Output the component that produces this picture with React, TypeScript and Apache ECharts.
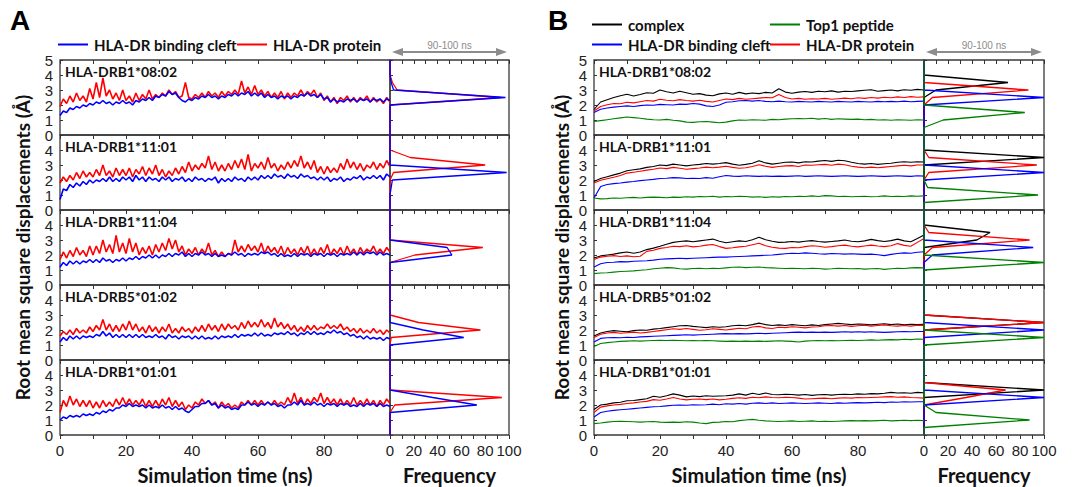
import React, { useEffect, useRef } from "react";
import * as echarts from "echarts";

// ---------- categories / tick labels ----------
const ALLELES = ["HLA-DRB1*08:02", "HLA-DRB1*11:01", "HLA-DRB1*11:04", "HLA-DRB5*01:02", "HLA-DRB1*01:01"];
const RMSD_BINS = [0, 0.5, 1, 1.5, 2, 2.5, 3, 3.5, 4, 4.5, 5];
const TIME_TICKS = [0, 20, 40, 60, 80];
const FREQ_TICKS = [0, 20, 40, 60, 80, 100];
const NAME_COMPLEX = "complex";
const NAME_PEPTIDE = "Top1 peptide";
const NAME_CLEFT = "HLA-DR binding cleft";
const NAME_PROTEIN = "HLA-DR protein";

// ---------- Panel A: RMSD time series (1 ns steps, 0..100 ns) ----------
const A0802_CLEFT = [
  1.3, 1.6, 1.5, 1.8, 1.7, 1.9, 1.8, 2.0, 1.9, 2.1,
  2.0, 2.2, 2.1, 2.3, 2.1, 2.2, 2.0, 2.2, 2.1, 2.3,
  2.1, 2.2, 2.0, 2.3, 2.2, 2.4, 2.3, 2.5, 2.3, 2.6,
  2.5, 2.7, 2.6, 2.9, 2.7, 2.8, 2.5, 2.3, 2.2, 2.4,
  2.3, 2.5, 2.4, 2.6, 2.5, 2.7, 2.5, 2.6, 2.4, 2.6,
  2.5, 2.7, 2.6, 2.8, 2.6, 2.8, 2.7, 2.9, 2.6, 2.8,
  2.6, 2.8, 2.5, 2.7, 2.5, 2.6, 2.4, 2.6, 2.5, 2.6,
  2.4, 2.6, 2.5, 2.7, 2.6, 2.8, 2.6, 2.7, 2.5, 2.7,
  2.4, 2.5, 2.2, 2.4, 2.2, 2.3, 2.2, 2.4, 2.3, 2.4,
  2.2, 2.4, 2.3, 2.4, 2.2, 2.4, 2.3, 2.4, 2.2, 2.4, 2.3,
];
const A0802_PROTEIN = [
  1.9, 2.4, 2.1, 2.6, 2.2, 2.8, 2.3, 2.6, 2.2, 3.1,
  2.4, 3.5, 2.5, 3.8, 2.6, 3.0, 2.4, 2.8, 2.3, 3.0,
  2.3, 2.6, 2.2, 2.8, 2.3, 2.7, 2.4, 3.0, 2.4, 2.7,
  2.5, 2.8, 2.6, 3.0, 2.7, 2.9, 2.5, 2.6, 3.5, 2.5,
  2.4, 2.7, 2.5, 2.8, 2.5, 2.9, 2.6, 2.8, 2.5, 2.9,
  2.6, 2.9, 2.7, 3.0, 2.7, 3.6, 2.8, 3.2, 2.7, 3.3,
  2.7, 3.0, 2.6, 2.9, 2.5, 2.8, 2.5, 2.9, 2.4, 2.8,
  2.5, 2.8, 2.6, 3.0, 2.6, 2.9, 2.7, 3.0, 2.5, 2.8,
  2.3, 2.6, 2.2, 2.5, 2.1, 2.5, 2.3, 2.6, 2.2, 2.5,
  2.2, 2.5, 2.3, 2.6, 2.2, 2.5, 2.2, 2.4, 2.1, 2.5, 2.2,
];
const A1101_CLEFT = [
  0.7, 1.4, 1.3, 1.7, 1.5, 1.8, 1.6, 1.9, 1.7, 2.0,
  1.8, 2.0, 1.9, 2.1, 1.9, 2.2, 1.9, 2.1, 1.9, 2.2,
  2.0, 2.2, 1.9, 2.3, 2.0, 2.2, 1.9, 2.2, 2.0, 2.1,
  1.9, 2.2, 2.0, 2.2, 1.9, 2.1, 2.0, 2.2, 1.9, 2.1,
  1.9, 2.2, 2.0, 2.1, 1.9, 2.1, 2.0, 2.2, 1.8, 2.1,
  1.9, 2.1, 1.9, 2.2, 2.0, 2.1, 1.9, 2.2, 2.0, 2.2,
  2.0, 2.3, 2.1, 2.3, 2.1, 2.4, 2.2, 2.3, 2.1, 2.4,
  2.2, 2.3, 2.1, 2.4, 2.2, 2.3, 2.1, 2.2, 2.0, 2.2,
  2.0, 2.2, 1.9, 2.1, 2.0, 2.2, 1.9, 2.1, 2.0, 2.2,
  2.1, 2.3, 2.0, 2.2, 2.1, 2.3, 2.1, 2.3, 2.0, 2.4, 2.2,
];
const A1101_PROTEIN = [
  1.8, 2.2, 1.9, 2.3, 2.0, 2.5, 2.1, 2.6, 2.2, 2.5,
  2.2, 2.7, 2.3, 3.0, 2.3, 2.6, 2.2, 2.8, 2.3, 2.7,
  2.3, 2.8, 2.2, 2.7, 2.4, 2.9, 2.3, 2.8, 2.4, 3.0,
  2.3, 2.7, 2.2, 2.6, 2.3, 2.8, 2.4, 2.9, 2.5, 3.2,
  2.6, 3.0, 2.7, 3.1, 2.8, 3.6, 2.7, 3.2, 2.6, 3.0,
  2.6, 3.1, 2.7, 3.3, 2.8, 3.4, 2.7, 3.7, 2.6, 3.1,
  2.8, 3.2, 2.7, 3.5, 2.8, 3.1, 2.6, 3.0, 2.7, 3.2,
  2.8, 3.3, 2.9, 3.6, 2.8, 3.2, 2.7, 3.3, 2.5, 2.9,
  2.4, 2.9, 2.5, 2.8, 2.5, 3.1, 2.7, 3.4, 2.8, 3.2,
  2.7, 3.1, 2.6, 3.0, 2.8, 3.2, 2.7, 3.1, 2.8, 3.3, 2.9,
];
const A1104_CLEFT = [
  1.2, 1.5, 1.3, 1.6, 1.4, 1.6, 1.4, 1.6, 1.5, 1.7,
  1.5, 1.7, 1.5, 1.8, 1.6, 1.7, 1.5, 1.7, 1.6, 1.8,
  1.6, 1.8, 1.7, 1.9, 1.7, 1.9, 1.8, 2.0, 1.8, 2.0,
  1.8, 2.0, 1.9, 2.1, 1.9, 2.1, 2.0, 2.2, 1.9, 2.1,
  1.9, 2.1, 2.0, 2.2, 2.0, 2.1, 1.9, 2.1, 1.9, 2.0,
  1.9, 2.1, 2.0, 2.2, 2.0, 2.1, 1.9, 2.1, 2.0, 2.1,
  2.0, 2.2, 2.1, 2.2, 2.0, 2.1, 1.9, 2.1, 1.9, 2.0,
  1.9, 2.1, 1.9, 2.1, 2.0, 2.1, 1.9, 2.1, 2.0, 2.1,
  1.9, 2.1, 2.0, 2.1, 1.9, 2.1, 2.0, 2.1, 2.0, 2.2,
  2.0, 2.2, 2.0, 2.2, 2.1, 2.2, 2.0, 2.2, 2.0, 2.1, 2.0,
];
const A1104_PROTEIN = [
  1.7, 2.2, 1.8, 2.3, 1.9, 2.5, 2.0, 2.3, 1.9, 2.6,
  2.0, 2.6, 2.1, 3.0, 2.2, 2.7, 2.1, 3.3, 2.2, 2.8,
  2.1, 3.1, 2.2, 2.8, 2.0, 2.5, 2.1, 2.6, 2.0, 2.7,
  2.2, 2.8, 2.3, 3.1, 2.4, 3.0, 2.2, 2.6, 2.0, 2.4,
  2.1, 2.5, 2.0, 2.4, 2.1, 2.8, 2.0, 2.3, 1.9, 2.2,
  1.9, 2.1, 2.0, 3.0, 2.2, 2.6, 2.2, 2.7, 2.3, 2.6,
  2.2, 2.8, 2.1, 2.6, 2.2, 2.5, 2.1, 2.6, 2.0, 2.5,
  2.1, 2.4, 2.0, 2.5, 2.1, 2.6, 2.0, 2.4, 2.0, 2.5,
  2.1, 2.7, 2.0, 2.4, 2.1, 2.5, 2.0, 2.6, 2.1, 2.4,
  2.0, 2.5, 2.1, 2.4, 2.2, 2.6, 2.1, 2.4, 2.1, 2.5, 2.2,
];
const A0102_CLEFT = [
  1.2, 1.5, 1.3, 1.6, 1.4, 1.6, 1.4, 1.6, 1.5, 1.6,
  1.5, 1.7, 1.6, 1.9, 1.6, 1.8, 1.5, 1.7, 1.5, 1.7,
  1.5, 1.7, 1.5, 1.7, 1.5, 1.7, 1.5, 1.6, 1.5, 1.7,
  1.5, 1.6, 1.4, 1.7, 1.5, 1.6, 1.4, 1.6, 1.5, 1.6,
  1.4, 1.6, 1.4, 1.6, 1.4, 1.5, 1.4, 1.6, 1.4, 1.6,
  1.5, 1.6, 1.5, 1.7, 1.5, 1.7, 1.6, 1.7, 1.6, 1.8,
  1.6, 1.8, 1.6, 1.7, 1.6, 1.8, 1.7, 1.8, 1.7, 1.9,
  1.7, 1.8, 1.6, 1.8, 1.7, 1.9, 1.7, 1.9, 1.7, 1.8,
  1.7, 1.9, 1.8, 2.0, 1.8, 1.9, 1.7, 1.8, 1.6, 1.7,
  1.5, 1.6, 1.4, 1.6, 1.4, 1.5, 1.4, 1.5, 1.3, 1.5, 1.4,
];
const A0102_PROTEIN = [
  1.6, 1.9, 1.7, 2.0, 1.7, 2.1, 1.8, 2.0, 1.8, 2.2,
  1.9, 2.3, 2.0, 2.7, 2.0, 2.4, 1.9, 2.3, 1.9, 2.4,
  2.0, 2.6, 2.0, 2.4, 1.9, 2.2, 1.8, 2.3, 1.9, 2.2,
  1.8, 2.2, 1.9, 2.4, 1.8, 2.1, 1.8, 2.2, 1.9, 2.1,
  1.8, 2.2, 1.9, 2.3, 1.9, 2.4, 2.0, 2.3, 1.9, 2.4,
  2.0, 2.4, 2.1, 2.3, 2.0, 2.5, 2.1, 2.6, 2.2, 2.5,
  2.2, 2.7, 2.2, 2.5, 2.1, 2.8, 2.2, 2.5, 2.1, 2.4,
  2.0, 2.3, 1.9, 2.2, 1.9, 2.3, 2.0, 2.3, 2.0, 2.2,
  2.1, 2.4, 2.1, 2.3, 2.1, 2.4, 2.0, 2.2, 1.9, 2.1,
  1.8, 2.1, 1.8, 2.0, 1.8, 2.1, 1.8, 2.0, 1.7, 2.0, 1.8,
];
const A0101_CLEFT = [
  1.0, 1.2, 1.1, 1.3, 1.2, 1.3, 1.2, 1.4, 1.3, 1.4,
  1.3, 1.5, 1.4, 1.6, 1.5, 1.7, 1.6, 1.8, 1.8, 2.0,
  1.9, 2.1, 1.9, 2.0, 1.9, 2.0, 1.8, 2.0, 1.8, 1.9,
  1.8, 2.0, 1.8, 1.9, 1.7, 1.9, 1.7, 1.8, 1.6, 1.5,
  1.7, 1.9, 1.9, 2.1, 2.1, 2.3, 2.0, 2.1, 1.8, 2.0,
  1.8, 1.9, 1.7, 1.8, 1.7, 2.0, 2.0, 2.2, 2.0, 2.1,
  1.9, 2.1, 2.0, 2.2, 2.0, 2.1, 1.9, 2.0, 1.8, 2.0,
  2.0, 2.2, 2.0, 2.3, 2.0, 2.1, 2.0, 2.2, 2.0, 2.1,
  1.9, 2.1, 2.0, 2.1, 1.9, 2.1, 2.0, 2.1, 1.9, 2.0,
  1.9, 2.1, 1.9, 2.1, 2.0, 2.1, 1.9, 2.1, 1.9, 2.0, 1.9,
];
const A0101_PROTEIN = [
  1.5, 2.3, 1.9, 2.6, 2.0, 2.4, 1.9, 2.3, 1.9, 2.3,
  1.8, 2.2, 1.8, 2.3, 1.9, 2.2, 1.9, 2.4, 2.0, 2.5,
  2.0, 2.4, 2.0, 2.3, 2.0, 2.4, 1.9, 2.3, 1.9, 2.3,
  1.9, 2.4, 2.0, 2.5, 1.9, 2.3, 1.9, 2.2, 1.7, 2.0,
  1.8, 2.2, 2.0, 2.4, 2.1, 2.3, 2.0, 2.2, 1.8, 2.2,
  1.9, 2.1, 1.8, 2.0, 1.8, 2.2, 2.0, 2.3, 2.0, 2.3,
  2.0, 2.3, 2.0, 2.2, 2.0, 2.3, 2.0, 2.2, 2.0, 2.5,
  2.1, 2.8, 2.1, 2.5, 2.0, 2.4, 2.1, 2.5, 2.2, 2.8,
  2.1, 2.5, 2.1, 2.4, 2.0, 2.4, 2.0, 2.3, 2.0, 2.5,
  2.0, 2.3, 2.0, 2.4, 2.0, 2.3, 1.9, 2.3, 2.0, 2.4, 2.1,
];

// ---------- Panel A: frequency (90-100 ns) per RMSD bin ----------
const AH0802_CLEFT = [0, 0, 0, 0, 0, 97, 3, 1, 0, 0, 0];
const AH0802_PROTEIN = [0, 0, 0, 0, 0, 93, 6, 2, 0, 0, 0];
const AH1101_CLEFT = [0, 0, 0, 1, 2, 98, 0, 0, 0, 0, 0];
const AH1101_PROTEIN = [0, 0, 0, 0, 0, 3, 80, 17, 0, 0, 0];
const AH1104_CLEFT = [0, 0, 0, 0, 52, 48, 0, 0, 0, 0, 0];
const AH1104_PROTEIN = [0, 0, 0, 0, 21, 78, 0, 0, 0, 0, 0];
const AH0102_CLEFT = [0, 0, 0, 62, 28, 0, 0, 0, 0, 0, 0];
const AH0102_PROTEIN = [0, 0, 0, 1, 76, 24, 0, 0, 0, 0, 0];
const AH0101_CLEFT = [0, 0, 0, 0, 73, 36, 0, 0, 0, 0, 0];
const AH0101_PROTEIN = [0, 0, 0, 0, 4, 94, 0, 0, 0, 0, 0];

// ---------- Panel B: RMSD time series (2 ns steps, 0..100 ns) ----------
const B0802_COMPLEX = [1.70, 2.20, 2.35, 2.50, 2.62, 2.72, 2.60, 2.70, 2.82, 2.78, 3.00, 2.88, 2.80, 2.92, 2.82, 2.72, 2.76, 2.66, 2.62, 2.74, 2.80, 2.72, 2.84, 2.74, 2.80, 2.76, 2.84, 2.80, 3.08, 2.86, 2.78, 2.86, 2.90, 2.84, 2.92, 2.88, 2.94, 2.86, 2.92, 2.90, 2.94, 2.98, 3.02, 2.92, 2.96, 3.00, 2.94, 3.02, 2.98, 3.04, 3.00];
const B0802_PROTEIN = [1.60, 1.90, 2.02, 2.10, 2.08, 2.18, 2.14, 2.22, 2.30, 2.26, 2.38, 2.32, 2.28, 2.36, 2.30, 2.26, 2.32, 2.24, 2.20, 2.30, 2.40, 2.36, 2.44, 2.38, 2.42, 2.46, 2.50, 2.48, 2.70, 2.50, 2.40, 2.44, 2.38, 2.42, 2.40, 2.44, 2.38, 2.42, 2.46, 2.42, 2.48, 2.44, 2.50, 2.46, 2.52, 2.48, 2.54, 2.50, 2.56, 2.52, 2.54];
const B0802_CLEFT = [1.50, 1.72, 1.80, 1.86, 1.90, 1.94, 1.90, 1.96, 2.00, 1.98, 2.04, 2.02, 2.00, 2.06, 2.04, 2.10, 2.06, 1.94, 1.90, 2.00, 2.18, 2.22, 2.28, 2.30, 2.26, 2.30, 2.24, 2.22, 2.26, 2.22, 2.20, 2.24, 2.22, 2.20, 2.24, 2.22, 2.20, 2.24, 2.22, 2.20, 2.24, 2.22, 2.20, 2.24, 2.22, 2.24, 2.22, 2.26, 2.22, 2.24, 2.26];
const B0802_PEPTIDE = [0.90, 0.96, 1.02, 1.08, 1.14, 1.20, 1.16, 1.12, 1.06, 1.02, 1.00, 1.04, 0.98, 0.94, 0.86, 0.84, 0.88, 0.90, 0.86, 0.82, 0.86, 0.94, 1.00, 0.98, 1.02, 1.00, 0.98, 1.04, 1.02, 1.06, 1.08, 1.10, 1.08, 1.12, 1.06, 1.10, 1.04, 1.08, 1.06, 1.04, 1.06, 1.02, 1.04, 1.00, 1.02, 0.98, 1.02, 1.00, 0.98, 1.02, 1.00];
const B1101_COMPLEX = [1.90, 2.10, 2.22, 2.34, 2.46, 2.62, 2.68, 2.74, 2.84, 2.90, 3.00, 2.96, 3.06, 3.00, 2.94, 3.00, 3.04, 3.10, 3.06, 3.10, 3.16, 3.06, 2.98, 3.04, 3.12, 3.28, 3.14, 3.06, 3.12, 3.18, 3.20, 3.14, 3.22, 3.20, 3.26, 3.30, 3.24, 3.32, 3.28, 3.18, 3.10, 3.06, 3.10, 3.04, 3.08, 3.12, 3.18, 3.22, 3.18, 3.22, 3.20];
const B1101_PROTEIN = [1.80, 1.98, 2.08, 2.18, 2.30, 2.46, 2.52, 2.58, 2.66, 2.72, 2.80, 2.76, 2.84, 2.78, 2.72, 2.76, 2.80, 2.86, 2.82, 2.86, 2.92, 2.84, 2.78, 2.82, 2.90, 3.02, 2.92, 2.84, 2.90, 2.94, 2.96, 2.90, 3.00, 2.98, 3.02, 3.04, 2.98, 3.06, 3.02, 2.92, 2.86, 2.82, 2.86, 2.82, 2.86, 2.90, 2.94, 2.98, 2.94, 3.00, 3.00];
const B1101_CLEFT = [0.80, 1.56, 1.70, 1.76, 1.80, 1.86, 1.90, 1.96, 2.00, 2.04, 2.10, 2.12, 2.16, 2.14, 2.10, 2.12, 2.10, 2.16, 2.12, 2.22, 2.30, 2.26, 2.24, 2.28, 2.26, 2.24, 2.26, 2.24, 2.26, 2.24, 2.26, 2.28, 2.24, 2.26, 2.28, 2.26, 2.24, 2.26, 2.28, 2.26, 2.24, 2.26, 2.28, 2.26, 2.24, 2.26, 2.28, 2.26, 2.24, 2.28, 2.26];
const B1101_PEPTIDE = [0.80, 0.74, 0.76, 0.80, 0.78, 0.82, 0.84, 0.80, 0.84, 0.86, 0.84, 0.82, 0.86, 0.84, 0.88, 0.86, 0.90, 0.88, 0.92, 0.86, 0.90, 0.88, 0.92, 0.90, 0.86, 0.88, 0.84, 0.88, 0.86, 0.90, 0.88, 0.92, 0.90, 0.94, 0.90, 0.96, 0.94, 0.90, 0.92, 0.88, 0.90, 0.92, 0.88, 0.90, 0.94, 0.90, 0.92, 0.90, 0.94, 0.92, 0.94];
const B1104_COMPLEX = [1.80, 1.94, 2.00, 2.06, 2.14, 2.20, 2.12, 2.20, 2.36, 2.46, 2.58, 2.72, 2.84, 2.90, 2.94, 2.88, 2.94, 3.00, 3.06, 2.92, 2.82, 2.88, 2.94, 2.90, 3.02, 3.18, 3.02, 2.92, 2.84, 2.86, 2.90, 2.86, 2.92, 2.96, 2.90, 2.86, 2.90, 2.94, 3.00, 2.92, 2.88, 2.94, 3.04, 2.96, 2.90, 2.96, 3.06, 2.94, 2.88, 3.10, 3.34];
const B1104_PROTEIN = [1.70, 1.86, 1.92, 1.96, 1.90, 1.94, 1.88, 1.92, 2.24, 2.32, 2.44, 2.50, 2.58, 2.56, 2.62, 2.54, 2.58, 2.66, 2.70, 2.56, 2.44, 2.48, 2.54, 2.58, 2.68, 2.78, 2.62, 2.52, 2.46, 2.44, 2.50, 2.48, 2.56, 2.62, 2.58, 2.52, 2.56, 2.62, 2.66, 2.58, 2.54, 2.60, 2.66, 2.60, 2.56, 2.62, 2.76, 2.64, 2.58, 2.84, 3.10];
const B1104_CLEFT = [1.20, 1.42, 1.50, 1.52, 1.56, 1.54, 1.58, 1.60, 1.62, 1.66, 1.72, 1.74, 1.76, 1.78, 1.76, 1.78, 1.80, 1.82, 1.84, 1.86, 1.86, 1.88, 1.90, 1.92, 1.94, 1.96, 1.98, 2.00, 2.04, 2.08, 2.12, 2.10, 2.14, 2.12, 2.08, 2.06, 2.10, 2.08, 2.06, 2.08, 2.06, 2.04, 2.06, 2.02, 1.96, 2.04, 2.10, 2.14, 2.12, 2.18, 2.22];
const B1104_PEPTIDE = [0.76, 0.80, 0.82, 0.86, 0.90, 0.92, 0.94, 0.98, 1.02, 1.08, 1.12, 1.16, 1.14, 1.08, 1.06, 1.10, 1.12, 1.08, 1.12, 1.10, 1.14, 1.18, 1.20, 1.16, 1.18, 1.20, 1.16, 1.14, 1.12, 1.10, 1.12, 1.10, 1.08, 1.12, 1.10, 1.06, 1.08, 1.12, 1.10, 1.08, 1.10, 1.06, 1.08, 1.10, 1.04, 1.08, 1.12, 1.10, 1.14, 1.16, 1.14];
const B0102_COMPLEX = [1.60, 1.80, 1.90, 1.96, 1.92, 1.88, 1.96, 2.00, 1.98, 2.06, 2.10, 2.16, 2.22, 2.28, 2.30, 2.24, 2.20, 2.16, 2.22, 2.18, 2.22, 2.28, 2.32, 2.28, 2.36, 2.46, 2.36, 2.30, 2.34, 2.30, 2.36, 2.32, 2.28, 2.34, 2.30, 2.36, 2.40, 2.44, 2.40, 2.36, 2.40, 2.38, 2.34, 2.38, 2.42, 2.36, 2.40, 2.34, 2.38, 2.36, 2.38];
const B0102_PROTEIN = [1.50, 1.72, 1.80, 1.84, 1.78, 1.82, 1.86, 1.80, 1.84, 1.90, 1.96, 2.02, 2.08, 2.04, 2.10, 2.04, 1.98, 2.02, 2.08, 2.04, 2.00, 2.06, 2.12, 2.08, 2.20, 2.24, 2.14, 2.10, 2.18, 2.16, 2.22, 2.18, 2.14, 2.20, 2.22, 2.28, 2.30, 2.26, 2.30, 2.24, 2.28, 2.32, 2.26, 2.30, 2.34, 2.28, 2.26, 2.30, 2.26, 2.32, 2.30];
const B0102_CLEFT = [1.20, 1.44, 1.48, 1.50, 1.48, 1.52, 1.50, 1.54, 1.56, 1.58, 1.60, 1.62, 1.64, 1.66, 1.68, 1.66, 1.68, 1.70, 1.72, 1.74, 1.76, 1.74, 1.76, 1.74, 1.76, 1.78, 1.76, 1.78, 1.80, 1.82, 1.84, 1.86, 1.84, 1.86, 1.84, 1.86, 1.84, 1.86, 1.88, 1.86, 1.88, 1.86, 1.88, 1.86, 1.84, 1.86, 1.88, 1.90, 1.88, 1.90, 1.90];
const B0102_PEPTIDE = [0.90, 1.10, 1.16, 1.20, 1.24, 1.26, 1.28, 1.26, 1.28, 1.30, 1.32, 1.30, 1.32, 1.30, 1.28, 1.30, 1.28, 1.30, 1.28, 1.26, 1.24, 1.26, 1.24, 1.26, 1.24, 1.26, 1.24, 1.26, 1.28, 1.26, 1.24, 1.20, 1.26, 1.28, 1.30, 1.28, 1.30, 1.28, 1.30, 1.32, 1.30, 1.32, 1.34, 1.32, 1.34, 1.36, 1.34, 1.38, 1.36, 1.40, 1.38];
const B0101_COMPLEX = [1.70, 2.00, 2.06, 2.14, 2.18, 2.28, 2.30, 2.36, 2.42, 2.58, 2.52, 2.62, 2.74, 2.66, 2.54, 2.60, 2.56, 2.62, 2.58, 2.60, 2.62, 2.66, 2.74, 2.66, 2.78, 2.70, 2.80, 2.70, 2.68, 2.72, 2.70, 2.66, 2.70, 2.64, 2.68, 2.70, 2.66, 2.70, 2.72, 2.70, 2.74, 2.72, 2.76, 2.74, 2.78, 2.84, 2.80, 2.82, 2.78, 2.84, 2.82];
const B0101_PROTEIN = [1.50, 1.86, 1.94, 2.00, 2.04, 2.10, 2.14, 2.20, 2.24, 2.36, 2.32, 2.40, 2.50, 2.40, 2.34, 2.38, 2.40, 2.36, 2.40, 2.34, 2.38, 2.44, 2.48, 2.44, 2.52, 2.48, 2.54, 2.50, 2.48, 2.52, 2.50, 2.46, 2.40, 2.42, 2.44, 2.46, 2.42, 2.46, 2.48, 2.46, 2.50, 2.48, 2.50, 2.52, 2.54, 2.56, 2.52, 2.54, 2.50, 2.48, 2.46];
const B0101_CLEFT = [1.20, 1.50, 1.58, 1.64, 1.68, 1.72, 1.76, 1.80, 1.84, 1.88, 1.90, 1.94, 1.98, 2.00, 1.98, 2.02, 2.00, 2.02, 2.06, 2.02, 2.08, 2.06, 2.10, 2.06, 2.12, 2.14, 2.10, 2.14, 2.10, 2.12, 2.14, 2.12, 2.10, 2.12, 2.14, 2.12, 2.10, 2.14, 2.12, 2.14, 2.16, 2.14, 2.16, 2.18, 2.16, 2.20, 2.18, 2.22, 2.20, 2.22, 2.22];
const B0101_PEPTIDE = [0.76, 0.80, 0.86, 0.90, 0.92, 0.90, 0.88, 0.86, 0.88, 0.90, 0.86, 0.84, 0.86, 0.84, 0.88, 0.86, 0.80, 0.76, 0.84, 0.86, 0.90, 0.88, 0.96, 1.00, 1.04, 0.98, 0.94, 0.92, 0.90, 0.92, 0.94, 0.90, 0.92, 0.94, 0.90, 0.92, 0.90, 0.92, 0.94, 0.96, 0.94, 0.96, 0.94, 0.96, 0.98, 0.94, 0.96, 0.98, 0.96, 0.98, 0.96];

// ---------- Panel B: frequency (90-100 ns) per RMSD bin ----------
const BH0802_COMPLEX = [0, 0, 0, 0, 0, 0, 10, 70, 0, 0, 0];
const BH0802_PROTEIN = [0, 0, 0, 0, 0, 7, 87, 0, 0, 0, 0];
const BH0802_CLEFT = [0, 0, 0, 0, 0, 100, 0, 0, 0, 0, 0];
const BH0802_PEPTIDE = [0, 0, 16, 84, 0, 0, 0, 0, 0, 0, 0];
const BH1101_COMPLEX = [0, 0, 0, 0, 0, 0, 0, 100, 0, 0, 0];
const BH1101_PROTEIN = [0, 0, 0, 0, 0, 4, 94, 4, 0, 0, 0];
const BH1101_CLEFT = [0, 0, 0, 0, 0, 100, 0, 0, 0, 0, 0];
const BH1101_PEPTIDE = [0, 0, 95, 3, 0, 0, 0, 0, 0, 0, 0];
const BH1104_COMPLEX = [0, 0, 0, 0, 0, 0, 44, 55, 0, 0, 0];
const BH1104_PROTEIN = [0, 0, 0, 0, 0, 7, 88, 4, 0, 0, 0];
const BH1104_CLEFT = [0, 0, 0, 0, 7, 91, 0, 0, 0, 0, 0];
const BH1104_PEPTIDE = [0, 0, 0, 100, 0, 0, 0, 0, 0, 0, 0];
const BH0102_COMPLEX = [0, 0, 0, 0, 0, 100, 0, 0, 0, 0, 0];
const BH0102_PROTEIN = [0, 0, 0, 0, 0, 100, 0, 0, 0, 0, 0];
const BH0102_CLEFT = [0, 0, 0, 0, 100, 0, 0, 0, 0, 0, 0];
const BH0102_PEPTIDE = [0, 0, 0, 100, 0, 0, 0, 0, 0, 0, 0];
const BH0101_COMPLEX = [0, 0, 0, 0, 0, 0, 100, 0, 0, 0, 0];
const BH0101_PROTEIN = [0, 0, 0, 0, 0, 35, 68, 0, 0, 0, 0];
const BH0101_CLEFT = [0, 0, 0, 0, 0, 100, 0, 0, 0, 0, 0];
const BH0101_PEPTIDE = [0, 0, 88, 10, 0, 0, 0, 0, 0, 0, 0];

// ---------- assembly ----------
const COLOR: Record<string, string> = {
  [NAME_COMPLEX]: "#000000",
  [NAME_PEPTIDE]: "#008000",
  [NAME_CLEFT]: "#0000ff",
  [NAME_PROTEIN]: "#ff0000",
};

type Trace = { name: string; time: number[]; hist: number[] };

const PANEL_A_ROWS: Trace[][] = [
  [{ name: NAME_PROTEIN, time: A0802_PROTEIN, hist: AH0802_PROTEIN }, { name: NAME_CLEFT, time: A0802_CLEFT, hist: AH0802_CLEFT }],
  [{ name: NAME_PROTEIN, time: A1101_PROTEIN, hist: AH1101_PROTEIN }, { name: NAME_CLEFT, time: A1101_CLEFT, hist: AH1101_CLEFT }],
  [{ name: NAME_PROTEIN, time: A1104_PROTEIN, hist: AH1104_PROTEIN }, { name: NAME_CLEFT, time: A1104_CLEFT, hist: AH1104_CLEFT }],
  [{ name: NAME_PROTEIN, time: A0102_PROTEIN, hist: AH0102_PROTEIN }, { name: NAME_CLEFT, time: A0102_CLEFT, hist: AH0102_CLEFT }],
  [{ name: NAME_PROTEIN, time: A0101_PROTEIN, hist: AH0101_PROTEIN }, { name: NAME_CLEFT, time: A0101_CLEFT, hist: AH0101_CLEFT }],
];

const PANEL_B_ROWS: Trace[][] = [
  [
    { name: NAME_COMPLEX, time: B0802_COMPLEX, hist: BH0802_COMPLEX },
    { name: NAME_PROTEIN, time: B0802_PROTEIN, hist: BH0802_PROTEIN },
    { name: NAME_CLEFT, time: B0802_CLEFT, hist: BH0802_CLEFT },
    { name: NAME_PEPTIDE, time: B0802_PEPTIDE, hist: BH0802_PEPTIDE },
  ],
  [
    { name: NAME_COMPLEX, time: B1101_COMPLEX, hist: BH1101_COMPLEX },
    { name: NAME_PROTEIN, time: B1101_PROTEIN, hist: BH1101_PROTEIN },
    { name: NAME_CLEFT, time: B1101_CLEFT, hist: BH1101_CLEFT },
    { name: NAME_PEPTIDE, time: B1101_PEPTIDE, hist: BH1101_PEPTIDE },
  ],
  [
    { name: NAME_COMPLEX, time: B1104_COMPLEX, hist: BH1104_COMPLEX },
    { name: NAME_PROTEIN, time: B1104_PROTEIN, hist: BH1104_PROTEIN },
    { name: NAME_CLEFT, time: B1104_CLEFT, hist: BH1104_CLEFT },
    { name: NAME_PEPTIDE, time: B1104_PEPTIDE, hist: BH1104_PEPTIDE },
  ],
  [
    { name: NAME_COMPLEX, time: B0102_COMPLEX, hist: BH0102_COMPLEX },
    { name: NAME_PROTEIN, time: B0102_PROTEIN, hist: BH0102_PROTEIN },
    { name: NAME_CLEFT, time: B0102_CLEFT, hist: BH0102_CLEFT },
    { name: NAME_PEPTIDE, time: B0102_PEPTIDE, hist: BH0102_PEPTIDE },
  ],
  [
    { name: NAME_COMPLEX, time: B0101_COMPLEX, hist: BH0101_COMPLEX },
    { name: NAME_PROTEIN, time: B0101_PROTEIN, hist: BH0101_PROTEIN },
    { name: NAME_CLEFT, time: B0101_CLEFT, hist: BH0101_CLEFT },
    { name: NAME_PEPTIDE, time: B0101_PEPTIDE, hist: BH0101_PEPTIDE },
  ],
];

const PANELS = [
  { letter: "A", letterX: 10, timeLeft: 60, timeWidth: 330, freqWidth: 119, rows: PANEL_A_ROWS, yTitleX: 22, lineW: 1.6 },
  { letter: "B", letterX: 548, timeLeft: 594, timeWidth: 330, freqWidth: 120, rows: PANEL_B_ROWS, yTitleX: 561, lineW: 1.1 },
];

const TOP = 60;
const ROW_H = 75;

function buildOption(): any {
  const grid: any[] = [];
  const xAxis: any[] = [];
  const yAxis: any[] = [];
  const series: any[] = [];
  const graphic: any[] = [];
  const BORDER = "#3a3a3a";
  const tickStyle = { color: "#333", width: 1 };
  const labelStyle = { fontFamily: "Liberation Sans", fontSize: 15, color: "#222" };
  const boldFont = "Lato";

  PANELS.forEach((p) => {
    const freqLeft = p.timeLeft + p.timeWidth;
    p.rows.forEach((row, r) => {
      const top = TOP + r * ROW_H;
      const last = r === p.rows.length - 1;

      // ---- time grid
      const gT = grid.length;
      grid.push({ left: p.timeLeft, top, width: p.timeWidth, height: ROW_H, show: true, borderColor: BORDER, borderWidth: 1.3, backgroundColor: "rgba(0,0,0,0)" });
      const xTb = xAxis.length;
      xAxis.push({
        type: "value", gridIndex: gT, min: 0, max: 100, interval: 20, position: "bottom",
        axisLine: { show: false }, splitLine: { show: false },
        axisTick: { show: last, inside: false, length: 4, lineStyle: tickStyle },
        minorTick: { show: last, splitNumber: 2, length: 4, lineStyle: tickStyle },
        axisLabel: { show: last, margin: 8, ...labelStyle, formatter: (v: number) => (TIME_TICKS.includes(v) ? String(v) : "") },
      });
      xAxis.push({
        type: "value", gridIndex: gT, min: 0, max: 100, interval: 20, position: "top",
        axisLine: { show: false }, splitLine: { show: false },
        axisTick: { show: true, inside: true, length: 4, lineStyle: tickStyle },
        minorTick: { show: true, splitNumber: 2, length: 4, lineStyle: tickStyle },
        axisLabel: { show: false },
      });
      const yT = yAxis.length;
      yAxis.push({
        type: "value", gridIndex: gT, min: 0, max: 5, interval: 1,
        axisLine: { show: false }, splitLine: { show: false },
        axisTick: { show: true, inside: true, length: 3, lineStyle: tickStyle },
        axisLabel: { margin: 7, ...labelStyle, formatter: (v: number) => (v === 5 && r > 0 ? "" : String(v)) },
      });

      // ---- frequency grid
      const gF = grid.length;
      grid.push({ left: freqLeft, top, width: p.freqWidth, height: ROW_H, show: true, borderColor: BORDER, borderWidth: 1.3, backgroundColor: "rgba(0,0,0,0)" });
      const xFb = xAxis.length;
      xAxis.push({
        type: "value", gridIndex: gF, min: 0, max: 100, interval: 20, position: "bottom",
        axisLine: { show: false }, splitLine: { show: false },
        axisTick: { show: last, inside: false, length: 4, lineStyle: tickStyle },
        minorTick: { show: last, splitNumber: 2, length: 4, lineStyle: tickStyle },
        axisLabel: { show: last, margin: 8, ...labelStyle, formatter: (v: number) => (FREQ_TICKS.includes(v) ? String(v) : "") },
      });
      xAxis.push({
        type: "value", gridIndex: gF, min: 0, max: 100, interval: 20, position: "top",
        axisLine: { show: false }, splitLine: { show: false },
        axisTick: { show: true, inside: true, length: 4, lineStyle: tickStyle },
        minorTick: { show: true, splitNumber: 2, length: 4, lineStyle: tickStyle },
        axisLabel: { show: false },
      });
      const yF = yAxis.length;
      yAxis.push({
        type: "value", gridIndex: gF, min: 0, max: 5, interval: 1,
        axisLine: { show: false }, splitLine: { show: false },
        axisTick: { show: true, inside: true, length: 3, lineStyle: tickStyle },
        axisLabel: { show: false },
      });

      row.forEach((tr) => {
        const color = COLOR[tr.name];
        series.push({
          type: "line", name: tr.name, xAxisIndex: xTb, yAxisIndex: yT,
          data: tr.time.map((v, i) => [(i * 100) / (tr.time.length - 1), v]),
          showSymbol: false, symbol: "none", silent: true, clip: true,
          lineStyle: { width: p.lineW, color, join: "bevel" }, itemStyle: { color },
        });
        series.push({
          type: "line", name: tr.name, xAxisIndex: xFb, yAxisIndex: yF,
          data: tr.hist.map((f, i) => [f, RMSD_BINS[i]]),
          showSymbol: false, symbol: "none", silent: true, clip: true,
          lineStyle: { width: 1.3, color }, itemStyle: { color },
        });
      });

      graphic.push({
        type: "text", x: p.timeLeft + 5, y: top + 4, silent: true,
        style: { text: ALLELES[r], font: `bold 14px ${boldFont}`, fill: "#111" },
      });
    });

    // panel letter
    graphic.push({ type: "text", x: p.letterX, y: 6, style: { text: p.letter, font: "bold 28px Liberation Sans", fill: "#000" } });
    // y title
    graphic.push({
      type: "text", x: p.yTitleX, y: TOP + (ROW_H * 5) / 2, rotation: Math.PI / 2,
      style: { text: "Root mean square displacements (Å)", font: `bold 19px ${boldFont}`, fill: "#111", textAlign: "center", textVerticalAlign: "middle" },
    });
    // x titles
    graphic.push({
      type: "text", x: p.timeLeft + p.timeWidth / 2, y: 475,
      style: { text: "Simulation time (ns)", font: `bold 20px ${boldFont}`, fill: "#111", textAlign: "center", textVerticalAlign: "middle" },
    });
    graphic.push({
      type: "text", x: freqLeft + p.freqWidth / 2, y: 475,
      style: { text: "Frequency", font: `bold 20px ${boldFont}`, fill: "#111", textAlign: "center", textVerticalAlign: "middle" },
    });
    // 90-100 ns arrow
    const ay = 52;
    const ax1 = freqLeft + 2;
    const ax2 = freqLeft + p.freqWidth - 2;
    graphic.push({ type: "line", shape: { x1: ax1 + 8, y1: ay, x2: ax2 - 8, y2: ay }, style: { stroke: "#8c8c8c", lineWidth: 2 } });
    graphic.push({ type: "polygon", shape: { points: [[ax1, ay], [ax1 + 11, ay - 4], [ax1 + 11, ay + 4]] }, style: { fill: "#8c8c8c" } });
    graphic.push({ type: "polygon", shape: { points: [[ax2, ay], [ax2 - 11, ay - 4], [ax2 - 11, ay + 4]] }, style: { fill: "#8c8c8c" } });
    graphic.push({
      type: "text", x: freqLeft + p.freqWidth / 2, y: 45,
      style: { text: "90-100 ns", font: "10px Liberation Sans", fill: "#8c8c8c", textAlign: "center", textVerticalAlign: "middle" },
    });
  });

  const legendBase = {
    icon: "rect", itemWidth: 30, itemHeight: 2, itemGap: 10, padding: 0, selectedMode: false,
    textStyle: { fontFamily: boldFont, fontWeight: "bold", fontSize: 15, color: "#111", padding: [0, 0, 0, 1] },
  };
  const legend = [
    { ...legendBase, left: 58, top: 37, data: [NAME_CLEFT] },
    { ...legendBase, left: 237, top: 37, data: [NAME_PROTEIN] },
    { ...legendBase, left: 592, top: 17, data: [NAME_COMPLEX] },
    { ...legendBase, left: 770, top: 17, data: [NAME_PEPTIDE] },
    { ...legendBase, left: 592, top: 37, data: [NAME_CLEFT] },
    { ...legendBase, left: 770, top: 37, data: [NAME_PROTEIN] },
  ];

  return { animation: false, backgroundColor: "#ffffff", grid, xAxis, yAxis, series, graphic, legend };
}

export default function App() {
  const ref = useRef<HTMLDivElement>(null);
  useEffect(() => {
    document.body.style.margin = "0";
    if (!ref.current) return;
    const chart = echarts.init(ref.current, undefined, { renderer: "svg" });
    chart.setOption(buildOption());
    return () => chart.dispose();
  }, []);
  return <div ref={ref} style={{ width: 1073, height: 487 }} />;
}
